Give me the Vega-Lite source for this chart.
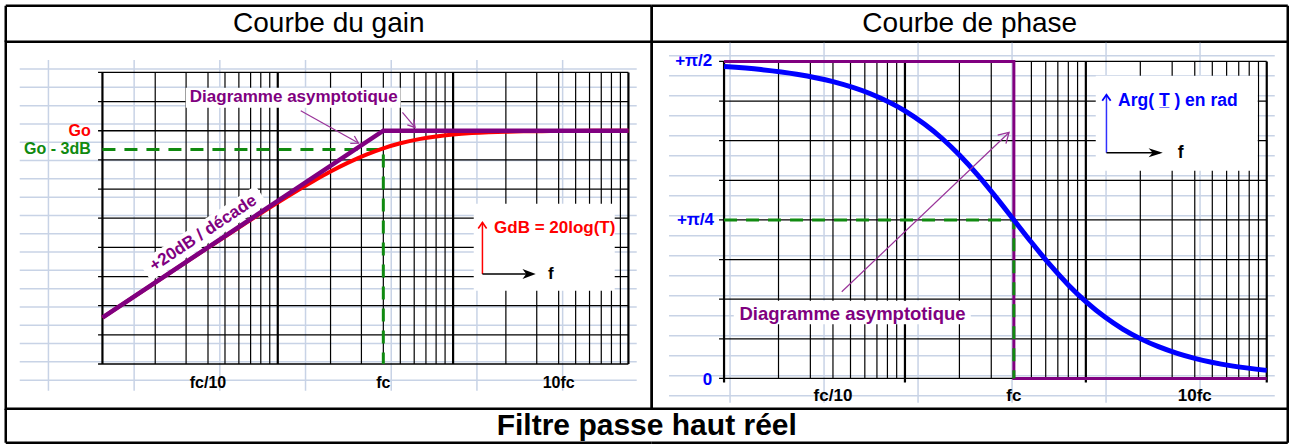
{
  "$schema": "https://vega.github.io/schema/vega-lite/v6.json",
  "padding": {"left": 3.75, "top": 3.75, "right": 3.75, "bottom": 2.75},
  "background": "white",
  "columns": 2,
  "spacing": 0,
  "bounds": "flush",
  "resolve": {"scale": {"x": "independent", "y": "independent"}},
  "config": {
    "view": {"stroke": "black", "strokeWidth": 2.5},
    "axis": {"disable": true},
    "text": {"font": "Liberation Sans"}
  },
  "datasets": {
    "minors": [{"f":0.05},{"f":0.075},{"f":0.1},{"f":0.125},{"f":0.15},{"f":0.175},{"f":0.2},{"f":0.225},{"f":0.5},{"f":0.75},{"f":1},{"f":1.25},{"f":1.5},{"f":1.75},{"f":2},{"f":2.25},{"f":5},{"f":7.5},{"f":10},{"f":12.5},{"f":15},{"f":17.5},{"f":20},{"f":22.5}],
    "decades": [{"f":0.025},{"f":0.25},{"f":2.5},{"f":25}],
    "g_h": [{"db":-40},{"db":-35},{"db":-30},{"db":-25},{"db":-20},{"db":-15},{"db":-10},{"db":-5},{"db":0},{"db":5},{"db":10}],
    "p_h": [{"rad":0},{"rad":0.19635},{"rad":0.3927},{"rad":0.58905},{"rad":0.7854},{"rad":0.98175},{"rad":1.1781},{"rad":1.37445},{"rad":1.5708}],
    "g_lv": [{"f":0.012302},{"f":0.03791},{"f":0.11682},{"f":0.36},{"f":1.1095},{"f":3.419},{"f":10.537}],
    "g_lh": [{"db":10.58},{"db":7.44},{"db":4.3},{"db":1.17},{"db":-1.97},{"db":-5.11},{"db":-8.25},{"db":-11.39},{"db":-14.52},{"db":-17.66},{"db":-20.8},{"db":-23.94},{"db":-27.08},{"db":-30.21},{"db":-33.35},{"db":-36.49},{"db":-39.63},{"db":-42.77}],
    "p_lv": [{"f":0.026985},{"f":0.089275},{"f":0.29537},{"f":0.9772},{"f":3.233},{"f":10.696}],
    "p_lh": [{"rad":1.5991},{"rad":1.5},{"rad":1.4009},{"rad":1.3018},{"rad":1.2027},{"rad":1.1036},{"rad":1.0045},{"rad":0.9054},{"rad":0.8063},{"rad":0.7071},{"rad":0.608},{"rad":0.5089},{"rad":0.4098},{"rad":0.3107},{"rad":0.2116},{"rad":0.1125},{"rad":0.0134},{"rad":-0.0857}],
    "g_curve": [{"f":0.025,"db":-32.044},{"f":0.04,"db":-27.966},{"f":0.063,"db":-24.03},{"f":0.1,"db":-20.043},{"f":0.16,"db":-16.027},{"f":0.25,"db":-12.304},{"f":0.4,"db":-8.603},{"f":0.5,"db":-6.99},{"f":0.63,"db":-5.465},{"f":0.8,"db":-4.087},{"f":1,"db":-3.01},{"f":1.25,"db":-2.148},{"f":1.6,"db":-1.432},{"f":2,"db":-0.969},{"f":2.5,"db":-0.645},{"f":3.2,"db":-0.405},{"f":4,"db":-0.263},{"f":5,"db":-0.17},{"f":6.3,"db":-0.108},{"f":8,"db":-0.067},{"f":10,"db":-0.043},{"f":16,"db":-0.017},{"f":25,"db":-0.007}],
    "p_curve": [{"f":0.025,"rad":1.5458},{"f":0.04,"rad":1.5308},{"f":0.063,"rad":1.5079},{"f":0.1,"rad":1.4711},{"f":0.16,"rad":1.4122},{"f":0.25,"rad":1.3258},{"f":0.4,"rad":1.1903},{"f":0.5,"rad":1.1071},{"f":0.63,"rad":1.0088},{"f":0.8,"rad":0.8961},{"f":1,"rad":0.7854},{"f":1.25,"rad":0.6747},{"f":1.6,"rad":0.5586},{"f":2,"rad":0.4636},{"f":2.5,"rad":0.3805},{"f":3.2,"rad":0.3029},{"f":4,"rad":0.245},{"f":5,"rad":0.1974},{"f":6.3,"rad":0.1574},{"f":8,"rad":0.1244},{"f":10,"rad":0.0997},{"f":16,"rad":0.0624},{"f":25,"rad":0.04}]
  },
  "concat": [
    {
      "width": 646,
      "height": 36,
      "view": {"stroke": null},
      "layer": [
        {"data": {"values": [{"t": "Courbe du gain"}]}, "mark": {"type": "text", "fontSize": 28, "color": "black"}, "encoding": {"text": {"field": "t"}}},
        {"data": {"values": [{"edge": 0}, {"edge": 1}]},
         "mark": {"type": "rule", "color": "black", "strokeWidth": 2.5},
         "encoding": {"x": {"field": "edge", "type": "quantitative", "scale": {"domain": [0, 1], "nice": false, "zero": false}},
                      "y": {"datum": 0, "type": "quantitative", "scale": {"domain": [0, 1], "nice": false, "zero": false}}, "y2": {"datum": 1}}},
        {"data": {"values": [{"edge": "top"}]},
         "mark": {"type": "rule", "color": "black", "strokeWidth": 2.5},
         "encoding": {"y": {"datum": 1, "type": "quantitative", "scale": {"domain": [0, 1], "nice": false, "zero": false}},
                      "x": {"datum": 0, "type": "quantitative", "scale": {"domain": [0, 1], "nice": false, "zero": false}}, "x2": {"datum": 1}}}
      ]
    },
    {
      "width": 636,
      "height": 36,
      "view": {"stroke": null},
      "layer": [
        {"data": {"values": [{"t": "Courbe de phase"}]}, "mark": {"type": "text", "fontSize": 28, "color": "black"}, "encoding": {"text": {"field": "t"}}},
        {"data": {"values": [{"edge": 0}, {"edge": 1}]},
         "mark": {"type": "rule", "color": "black", "strokeWidth": 2.5},
         "encoding": {"x": {"field": "edge", "type": "quantitative", "scale": {"domain": [0, 1], "nice": false, "zero": false}},
                      "y": {"datum": 0, "type": "quantitative", "scale": {"domain": [0, 1], "nice": false, "zero": false}}, "y2": {"datum": 1}}},
        {"data": {"values": [{"edge": "top"}]},
         "mark": {"type": "rule", "color": "black", "strokeWidth": 2.5},
         "encoding": {"y": {"datum": 1, "type": "quantitative", "scale": {"domain": [0, 1], "nice": false, "zero": false}},
                      "x": {"datum": 0, "type": "quantitative", "scale": {"domain": [0, 1], "nice": false, "zero": false}}, "x2": {"datum": 1}}}
      ]
    },
    {
      "width": 646,
      "height": 367,
      "layer": [
        {"data": {"name": "g_lv"}, "mark": {"type": "rule", "color": "#c8d3e6", "strokeWidth": 1.5},
         "encoding": {"x": {"field": "f", "type": "quantitative", "scale": {"type": "log", "domain": [0.007022, 33.96], "nice": false}},
                      "y": {"datum": 12.12, "type": "quantitative", "scale": {"domain": [-47.67, 15.26], "nice": false, "zero": false}},
                      "y2": {"datum": -44.58}}},
        {"data": {"name": "g_lh"}, "mark": {"type": "rule", "color": "#c8d3e6", "strokeWidth": 1.5},
         "encoding": {"y": {"field": "db", "type": "quantitative", "scale": {"domain": [-47.67, 15.26], "nice": false, "zero": false}},
                      "x": {"datum": 0.008437, "type": "quantitative", "scale": {"type": "log", "domain": [0.007022, 33.96], "nice": false}},
                      "x2": {"datum": 27.88}}},
        {"data": {"name": "minors"}, "mark": {"type": "rule", "color": "black", "strokeWidth": 1.2},
         "encoding": {"x": {"field": "f", "type": "quantitative", "scale": {"type": "log", "domain": [0.007022, 33.96], "nice": false}},
                      "y": {"datum": 10, "type": "quantitative", "scale": {"domain": [-47.67, 15.26], "nice": false, "zero": false}},
                      "y2": {"datum": -40}}},
        {"data": {"name": "decades"}, "mark": {"type": "rule", "color": "black", "strokeWidth": 2.2},
         "encoding": {"x": {"field": "f", "type": "quantitative", "scale": {"type": "log", "domain": [0.007022, 33.96], "nice": false}},
                      "y": {"datum": 10, "type": "quantitative", "scale": {"domain": [-47.67, 15.26], "nice": false, "zero": false}},
                      "y2": {"datum": -40}}},
        {"data": {"name": "g_h"}, "mark": {"type": "rule", "color": "black", "strokeWidth": 1.3},
         "encoding": {"y": {"field": "db", "type": "quantitative", "scale": {"domain": [-47.67, 15.26], "nice": false, "zero": false}},
                      "x": {"datum": 0.0236, "type": "quantitative", "scale": {"type": "log", "domain": [0.007022, 33.96], "nice": false}},
                      "x2": {"datum": 25}}},
        {"data": {"values": [{"f": 0.07465, "f2": 1.2569, "db": 7.373, "db2": 3.944}, {"f": 3.2783, "f2": 20.885, "db": -12.517, "db2": -27.435}]},
         "mark": {"type": "rect", "color": "white"},
         "encoding": {"x": {"field": "f", "type": "quantitative", "scale": {"type": "log", "domain": [0.007022, 33.96], "nice": false}}, "x2": {"field": "f2"},
                      "y": {"field": "db", "type": "quantitative", "scale": {"domain": [-47.67, 15.26], "nice": false, "zero": false}}, "y2": {"field": "db2"}}},
        {"data": {"values": [{"f": 0.04369, "db": -24.211}, {"f": 0.20198, "db": -10.94}]},
         "mark": {"type": "line", "color": "white", "strokeWidth": 22, "strokeCap": "butt"},
         "encoding": {"x": {"field": "f", "type": "quantitative", "scale": {"type": "log", "domain": [0.007022, 33.96], "nice": false}},
                      "y": {"field": "db", "type": "quantitative", "scale": {"domain": [-47.67, 15.26], "nice": false, "zero": false}}}},
        {"data": {"values": [{"i": 1, "f": 0.025, "db": -3.2}, {"i": 2, "f": 1, "db": -3.2}, {"i": 3, "f": 1, "db": -40}]},
         "mark": {"type": "line", "color": "#108a10", "strokeWidth": 3, "strokeDash": [13, 9]},
         "encoding": {"x": {"field": "f", "type": "quantitative", "scale": {"type": "log", "domain": [0.007022, 33.96], "nice": false}},
                      "y": {"field": "db", "type": "quantitative", "scale": {"domain": [-47.67, 15.26], "nice": false, "zero": false}},
                      "order": {"field": "i"}}},
        {"data": {"name": "g_curve"}, "mark": {"type": "line", "color": "#ff0000", "strokeWidth": 4, "interpolate": "monotone"},
         "encoding": {"x": {"field": "f", "type": "quantitative", "scale": {"type": "log", "domain": [0.007022, 33.96], "nice": false}},
                      "y": {"field": "db", "type": "quantitative", "scale": {"domain": [-47.67, 15.26], "nice": false, "zero": false}}}},
        {"data": {"values": [{"f": 0.025, "db": -32.04}, {"f": 1, "db": 0}, {"f": 25, "db": 0}]},
         "mark": {"type": "line", "color": "#800080", "strokeWidth": 4.5},
         "encoding": {"x": {"field": "f", "type": "quantitative", "scale": {"type": "log", "domain": [0.007022, 33.96], "nice": false}},
                      "y": {"field": "db", "type": "quantitative", "scale": {"domain": [-47.67, 15.26], "nice": false, "zero": false}}}},
        {"data": {"values": [{"id": "a", "f": 0.33804, "db": 3.429}, {"id": "a", "f": 0.72117, "db": -2.109}, {"id": "b", "f": 1.2853, "db": 3.138}, {"id": "b", "f": 1.5166, "db": 0.566}]},
         "mark": {"type": "line", "color": "#993399", "strokeWidth": 1.2},
         "encoding": {"x": {"field": "f", "type": "quantitative", "scale": {"type": "log", "domain": [0.007022, 33.96], "nice": false}},
                      "y": {"field": "db", "type": "quantitative", "scale": {"domain": [-47.67, 15.26], "nice": false, "zero": false}},
                      "detail": {"field": "id"}}},
        {"data": {"values": [{"f": 0.72117, "db": -2.109}]},
         "mark": {"type": "point", "shape": "M-1,-0.6L0,0L-1,0.6", "filled": false, "color": "#993399", "strokeWidth": 1.3, "size": 196, "angle": 29.24, "opacity": 1},
         "encoding": {"x": {"field": "f", "type": "quantitative", "scale": {"type": "log", "domain": [0.007022, 33.96], "nice": false}},
                      "y": {"field": "db", "type": "quantitative", "scale": {"domain": [-47.67, 15.26], "nice": false, "zero": false}}}},
        {"data": {"values": [{"f": 1.5166, "db": 0.566}]},
         "mark": {"type": "point", "shape": "M-1,-0.6L0,0L-1,0.6", "filled": false, "color": "#993399", "strokeWidth": 1.3, "size": 196, "angle": 50, "opacity": 1},
         "encoding": {"x": {"field": "f", "type": "quantitative", "scale": {"type": "log", "domain": [0.007022, 33.96], "nice": false}},
                      "y": {"field": "db", "type": "quantitative", "scale": {"domain": [-47.67, 15.26], "nice": false, "zero": false}}}},
        {"data": {"values": [{"f": 3.6751, "db": -24.57}, {"f": 3.6751, "db": -15.72}]},
         "mark": {"type": "line", "color": "#ff0000", "strokeWidth": 1.5},
         "encoding": {"x": {"field": "f", "type": "quantitative", "scale": {"type": "log", "domain": [0.007022, 33.96], "nice": false}},
                      "y": {"field": "db", "type": "quantitative", "scale": {"domain": [-47.67, 15.26], "nice": false, "zero": false}}}},
        {"data": {"values": [{"f": 3.6751, "db": -15.72}]},
         "mark": {"type": "point", "shape": "M-1,-0.7L0,0L-1,0.7", "filled": false, "color": "#ff0000", "strokeWidth": 1.6, "size": 144, "angle": 270, "opacity": 1},
         "encoding": {"x": {"field": "f", "type": "quantitative", "scale": {"type": "log", "domain": [0.007022, 33.96], "nice": false}},
                      "y": {"field": "db", "type": "quantitative", "scale": {"domain": [-47.67, 15.26], "nice": false, "zero": false}}}},
        {"data": {"values": [{"f": 3.6751, "db": -24.57}, {"f": 7.1, "db": -24.57}]},
         "mark": {"type": "line", "color": "black", "strokeWidth": 1.5},
         "encoding": {"x": {"field": "f", "type": "quantitative", "scale": {"type": "log", "domain": [0.007022, 33.96], "nice": false}},
                      "y": {"field": "db", "type": "quantitative", "scale": {"domain": [-47.67, 15.26], "nice": false, "zero": false}}}},
        {"data": {"values": [{"f": 7.4, "db": -24.57}]},
         "mark": {"type": "point", "shape": "M0,0L-1,-0.38L-0.72,0L-1,0.38Z", "filled": true, "color": "black", "size": 700, "angle": 0, "opacity": 1},
         "encoding": {"x": {"field": "f", "type": "quantitative", "scale": {"type": "log", "domain": [0.007022, 33.96], "nice": false}},
                      "y": {"field": "db", "type": "quantitative", "scale": {"domain": [-47.67, 15.26], "nice": false, "zero": false}}}},
        {"data": {"values": [{"label": "Diagramme asymptotique", "f": 0.3083, "db": 5.71}]},
         "mark": {"type": "text", "fontSize": 17, "fontWeight": "bold", "color": "#800080"},
         "encoding": {"x": {"field": "f", "type": "quantitative", "scale": {"type": "log", "domain": [0.007022, 33.96], "nice": false}},
                      "y": {"field": "db", "type": "quantitative", "scale": {"domain": [-47.67, 15.26], "nice": false, "zero": false}},
                      "text": {"field": "label"}}},
        {"data": {"values": [{"label": "+20dB / décade", "f": 0.09394, "db": -17.575}]},
         "mark": {"type": "text", "fontSize": 17, "fontWeight": "bold", "color": "#800080", "angle": 326.4},
         "encoding": {"x": {"field": "f", "type": "quantitative", "scale": {"type": "log", "domain": [0.007022, 33.96], "nice": false}},
                      "y": {"field": "db", "type": "quantitative", "scale": {"domain": [-47.67, 15.26], "nice": false, "zero": false}},
                      "text": {"field": "label"}}},
        {"data": {"values": [{"label": "GdB = 20log(T)", "f": 4.2801, "db": -16.75}]},
         "mark": {"type": "text", "fontSize": 17, "fontWeight": "bold", "color": "#ff0000", "align": "left"},
         "encoding": {"x": {"field": "f", "type": "quantitative", "scale": {"type": "log", "domain": [0.007022, 33.96], "nice": false}},
                      "y": {"field": "db", "type": "quantitative", "scale": {"domain": [-47.67, 15.26], "nice": false, "zero": false}},
                      "text": {"field": "label"}}},
        {"data": {"values": [{"label": "f", "f": 9.0124, "db": -24.57}]},
         "mark": {"type": "text", "fontSize": 17, "fontWeight": "bold", "color": "black"},
         "encoding": {"x": {"field": "f", "type": "quantitative", "scale": {"type": "log", "domain": [0.007022, 33.96], "nice": false}},
                      "y": {"field": "db", "type": "quantitative", "scale": {"domain": [-47.67, 15.26], "nice": false, "zero": false}},
                      "text": {"field": "label"}}},
        {"data": {"values": [{"label": "Go", "f": 0.02144, "db": 0}]},
         "mark": {"type": "text", "fontSize": 16, "fontWeight": "bold", "color": "#ff0000", "align": "right"},
         "encoding": {"x": {"field": "f", "type": "quantitative", "scale": {"type": "log", "domain": [0.007022, 33.96], "nice": false}},
                      "y": {"field": "db", "type": "quantitative", "scale": {"domain": [-47.67, 15.26], "nice": false, "zero": false}},
                      "text": {"field": "label"}}},
        {"data": {"values": [{"label": "Go - 3dB", "f": 0.02144, "db": -3.2}]},
         "mark": {"type": "text", "fontSize": 16, "fontWeight": "bold", "color": "#108a10", "align": "right"},
         "encoding": {"x": {"field": "f", "type": "quantitative", "scale": {"type": "log", "domain": [0.007022, 33.96], "nice": false}},
                      "y": {"field": "db", "type": "quantitative", "scale": {"domain": [-47.67, 15.26], "nice": false, "zero": false}},
                      "text": {"field": "label"}}},
        {"data": {"values": [{"label": "fc/10", "f": 0.1, "db": -43.21}, {"label": "fc", "f": 1, "db": -43.21}, {"label": "10fc", "f": 10, "db": -43.21}]},
         "mark": {"type": "text", "fontSize": 16, "fontWeight": "bold", "color": "black"},
         "encoding": {"x": {"field": "f", "type": "quantitative", "scale": {"type": "log", "domain": [0.007022, 33.96], "nice": false}},
                      "y": {"field": "db", "type": "quantitative", "scale": {"domain": [-47.67, 15.26], "nice": false, "zero": false}},
                      "text": {"field": "label"}}}
      ]
    },
    {
      "width": 636,
      "height": 367,
      "layer": [
        {"data": {"name": "p_lv"}, "mark": {"type": "rule", "color": "#c8d3e6", "strokeWidth": 1.5},
         "encoding": {"x": {"field": "f", "type": "quantitative", "scale": {"type": "log", "domain": [0.00996, 32.66], "nice": false}},
                      "y": {"datum": 1.6635, "type": "quantitative", "scale": {"domain": [-0.1501, 1.6685], "nice": false, "zero": false}},
                      "y2": {"datum": -0.1204}}},
        {"data": {"name": "p_lh"}, "mark": {"type": "rule", "color": "#c8d3e6", "strokeWidth": 1.5},
         "encoding": {"y": {"field": "rad", "type": "quantitative", "scale": {"domain": [-0.1501, 1.6685], "nice": false, "zero": false}},
                      "x": {"datum": 0.012414, "type": "quantitative", "scale": {"type": "log", "domain": [0.00996, 32.66], "nice": false}},
                      "x2": {"datum": 27.68}}},
        {"data": {"name": "minors"}, "mark": {"type": "rule", "color": "black", "strokeWidth": 1.2},
         "encoding": {"x": {"field": "f", "type": "quantitative", "scale": {"type": "log", "domain": [0.00996, 32.66], "nice": false}},
                      "y": {"datum": 1.5708, "type": "quantitative", "scale": {"domain": [-0.1501, 1.6685], "nice": false, "zero": false}},
                      "y2": {"datum": 0}}},
        {"data": {"name": "decades"}, "mark": {"type": "rule", "color": "black", "strokeWidth": 2.2},
         "encoding": {"x": {"field": "f", "type": "quantitative", "scale": {"type": "log", "domain": [0.00996, 32.66], "nice": false}},
                      "y": {"datum": 1.5708, "type": "quantitative", "scale": {"domain": [-0.1501, 1.6685], "nice": false, "zero": false}},
                      "y2": {"datum": -0.02}}},
        {"data": {"name": "p_h"}, "mark": {"type": "rule", "color": "black", "strokeWidth": 1.3},
         "encoding": {"y": {"field": "rad", "type": "quantitative", "scale": {"domain": [-0.1501, 1.6685], "nice": false, "zero": false}},
                      "x": {"datum": 0.02346, "type": "quantitative", "scale": {"type": "log", "domain": [0.00996, 32.66], "nice": false}},
                      "x2": {"datum": 25}}},
        {"data": {"values": [{"f": 2.8359, "f2": 22.294, "rad": 1.5, "rad2": 1.0292}, {"f": 0.028285, "f2": 0.5777, "rad": 0.385, "rad2": 0.2686}]},
         "mark": {"type": "rect", "color": "white"},
         "encoding": {"x": {"field": "f", "type": "quantitative", "scale": {"type": "log", "domain": [0.00996, 32.66], "nice": false}}, "x2": {"field": "f2"},
                      "y": {"field": "rad", "type": "quantitative", "scale": {"domain": [-0.1501, 1.6685], "nice": false, "zero": false}}, "y2": {"field": "rad2"}}},
        {"data": {"values": [{"i": 1, "f": 0.025, "rad": 1.5708}, {"i": 2, "f": 1, "rad": 1.5708}, {"i": 3, "f": 1, "rad": 0}, {"i": 4, "f": 25, "rad": 0}]},
         "mark": {"type": "line", "color": "#800080", "strokeWidth": 3},
         "encoding": {"x": {"field": "f", "type": "quantitative", "scale": {"type": "log", "domain": [0.00996, 32.66], "nice": false}},
                      "y": {"field": "rad", "type": "quantitative", "scale": {"domain": [-0.1501, 1.6685], "nice": false, "zero": false}},
                      "order": {"field": "i"}}},
        {"data": {"values": [{"i": 1, "f": 0.025, "rad": 0.7854}, {"i": 2, "f": 1, "rad": 0.7854}, {"i": 3, "f": 1, "rad": 0}]},
         "mark": {"type": "line", "color": "#108a10", "strokeWidth": 3, "strokeDash": [13, 9]},
         "encoding": {"x": {"field": "f", "type": "quantitative", "scale": {"type": "log", "domain": [0.00996, 32.66], "nice": false}},
                      "y": {"field": "rad", "type": "quantitative", "scale": {"domain": [-0.1501, 1.6685], "nice": false, "zero": false}},
                      "order": {"field": "i"}}},
        {"data": {"name": "p_curve"}, "mark": {"type": "line", "color": "#0000ff", "strokeWidth": 5, "interpolate": "monotone"},
         "encoding": {"x": {"field": "f", "type": "quantitative", "scale": {"type": "log", "domain": [0.00996, 32.66], "nice": false}},
                      "y": {"field": "rad", "type": "quantitative", "scale": {"domain": [-0.1501, 1.6685], "nice": false, "zero": false}}}},
        {"data": {"values": [{"f": 0.11184, "rad": 0.4296}, {"f": 0.94058, "rad": 1.219}]},
         "mark": {"type": "line", "color": "#993399", "strokeWidth": 1.2},
         "encoding": {"x": {"field": "f", "type": "quantitative", "scale": {"type": "log", "domain": [0.00996, 32.66], "nice": false}},
                      "y": {"field": "rad", "type": "quantitative", "scale": {"domain": [-0.1501, 1.6685], "nice": false, "zero": false}}}},
        {"data": {"values": [{"f": 0.94058, "rad": 1.219}]},
         "mark": {"type": "point", "shape": "M-1,-0.6L0,0L-1,0.6", "filled": false, "color": "#993399", "strokeWidth": 1.3, "size": 400, "angle": 316.4, "opacity": 1},
         "encoding": {"x": {"field": "f", "type": "quantitative", "scale": {"type": "log", "domain": [0.00996, 32.66], "nice": false}},
                      "y": {"field": "rad", "type": "quantitative", "scale": {"domain": [-0.1501, 1.6685], "nice": false, "zero": false}}}},
        {"data": {"values": [{"f": 3.2495, "rad": 1.1184}, {"f": 3.2495, "rad": 1.4059}]},
         "mark": {"type": "line", "color": "#3030ff", "strokeWidth": 1.5},
         "encoding": {"x": {"field": "f", "type": "quantitative", "scale": {"type": "log", "domain": [0.00996, 32.66], "nice": false}},
                      "y": {"field": "rad", "type": "quantitative", "scale": {"domain": [-0.1501, 1.6685], "nice": false, "zero": false}}}},
        {"data": {"values": [{"f": 3.2495, "rad": 1.4059}]},
         "mark": {"type": "point", "shape": "M-1,-0.7L0,0L-1,0.7", "filled": false, "color": "#0000ff", "strokeWidth": 1.8, "size": 144, "angle": 270, "opacity": 1},
         "encoding": {"x": {"field": "f", "type": "quantitative", "scale": {"type": "log", "domain": [0.00996, 32.66], "nice": false}},
                      "y": {"field": "rad", "type": "quantitative", "scale": {"domain": [-0.1501, 1.6685], "nice": false, "zero": false}}}},
        {"data": {"values": [{"f": 3.2495, "rad": 1.1184}, {"f": 6.4, "rad": 1.1184}]},
         "mark": {"type": "line", "color": "black", "strokeWidth": 1.5},
         "encoding": {"x": {"field": "f", "type": "quantitative", "scale": {"type": "log", "domain": [0.00996, 32.66], "nice": false}},
                      "y": {"field": "rad", "type": "quantitative", "scale": {"domain": [-0.1501, 1.6685], "nice": false, "zero": false}}}},
        {"data": {"values": [{"f": 6.6544, "rad": 1.1184}]},
         "mark": {"type": "point", "shape": "M0,0L-1,-0.32L-0.72,0L-1,0.32Z", "filled": true, "color": "black", "size": 800, "angle": 0, "opacity": 1},
         "encoding": {"x": {"field": "f", "type": "quantitative", "scale": {"type": "log", "domain": [0.00996, 32.66], "nice": false}},
                      "y": {"field": "rad", "type": "quantitative", "scale": {"domain": [-0.1501, 1.6685], "nice": false, "zero": false}}}},
        {"data": {"values": [{"label": "+π/2", "f": 0.021515, "rad": 1.5708}, {"label": "+π/4", "f": 0.022012, "rad": 0.7854}, {"label": "0", "f": 0.02151, "rad": -0.006}]},
         "mark": {"type": "text", "fontSize": 17, "fontWeight": "bold", "color": "#0000ff", "align": "right"},
         "encoding": {"x": {"field": "f", "type": "quantitative", "scale": {"type": "log", "domain": [0.00996, 32.66], "nice": false}},
                      "y": {"field": "rad", "type": "quantitative", "scale": {"domain": [-0.1501, 1.6685], "nice": false, "zero": false}},
                      "text": {"field": "label"}}},
        {"data": {"values": [{"label": "fc/10", "f": 0.1, "rad": -0.0857}, {"label": "fc", "f": 1, "rad": -0.0857}, {"label": "10fc", "f": 10, "rad": -0.0857}]},
         "mark": {"type": "text", "fontSize": 17, "fontWeight": "bold", "color": "black"},
         "encoding": {"x": {"field": "f", "type": "quantitative", "scale": {"type": "log", "domain": [0.00996, 32.66], "nice": false}},
                      "y": {"field": "rad", "type": "quantitative", "scale": {"domain": [-0.1501, 1.6685], "nice": false, "zero": false}},
                      "text": {"field": "label"}}},
        {"data": {"values": [{"label": "Diagramme asymptotique", "f": 0.12818, "rad": 0.3191}]},
         "mark": {"type": "text", "fontSize": 18.5, "fontWeight": "bold", "color": "#800080"},
         "encoding": {"x": {"field": "f", "type": "quantitative", "scale": {"type": "log", "domain": [0.00996, 32.66], "nice": false}},
                      "y": {"field": "rad", "type": "quantitative", "scale": {"domain": [-0.1501, 1.6685], "nice": false, "zero": false}},
                      "text": {"field": "label"}}},
        {"data": {"values": [{"label": "Arg( T̲ ) en rad", "f": 3.7663, "rad": 1.3726}]},
         "mark": {"type": "text", "fontSize": 17.5, "fontWeight": "bold", "color": "#0000ff", "align": "left"},
         "encoding": {"x": {"field": "f", "type": "quantitative", "scale": {"type": "log", "domain": [0.00996, 32.66], "nice": false}},
                      "y": {"field": "rad", "type": "quantitative", "scale": {"domain": [-0.1501, 1.6685], "nice": false, "zero": false}},
                      "text": {"field": "label"}}},
        {"data": {"values": [{"label": "f", "f": 8.3654, "rad": 1.1184}]},
         "mark": {"type": "text", "fontSize": 17.5, "fontWeight": "bold", "color": "black"},
         "encoding": {"x": {"field": "f", "type": "quantitative", "scale": {"type": "log", "domain": [0.00996, 32.66], "nice": false}},
                      "y": {"field": "rad", "type": "quantitative", "scale": {"domain": [-0.1501, 1.6685], "nice": false, "zero": false}},
                      "text": {"field": "label"}}}
      ]
    },
    {
      "width": 646,
      "height": 34,
      "view": {"stroke": null},
      "layer": [
        {"data": {"values": [{"t": "Filtre passe haut réel"}]},
         "mark": {"type": "text", "fontSize": 30, "fontWeight": "bold", "color": "black"},
         "encoding": {"x": {"datum": 0.9923, "type": "quantitative", "scale": {"domain": [0, 1], "nice": false, "zero": false}}, "text": {"field": "t"}}},
        {"data": {"values": [{"edge": "left"}]},
         "mark": {"type": "rule", "color": "black", "strokeWidth": 2.5},
         "encoding": {"x": {"datum": 0, "type": "quantitative", "scale": {"domain": [0, 1], "nice": false, "zero": false}},
                      "y": {"datum": 0, "type": "quantitative", "scale": {"domain": [0, 1], "nice": false, "zero": false}}, "y2": {"datum": 1}}},
        {"data": {"values": [{"edge": "bottom"}]},
         "mark": {"type": "rule", "color": "black", "strokeWidth": 2.5},
         "encoding": {"y": {"datum": 0, "type": "quantitative", "scale": {"domain": [0, 1], "nice": false, "zero": false}},
                      "x": {"datum": 0, "type": "quantitative", "scale": {"domain": [0, 1], "nice": false, "zero": false}}, "x2": {"datum": 1}}}
      ]
    },
    {
      "width": 636,
      "height": 34,
      "view": {"stroke": null},
      "layer": [
        {"data": {"values": [{"edge": "right"}]},
         "mark": {"type": "rule", "color": "black", "strokeWidth": 2.5},
         "encoding": {"x": {"datum": 1, "type": "quantitative", "scale": {"domain": [0, 1], "nice": false, "zero": false}},
                      "y": {"datum": 0, "type": "quantitative", "scale": {"domain": [0, 1], "nice": false, "zero": false}}, "y2": {"datum": 1}}},
        {"data": {"values": [{"edge": "bottom"}]},
         "mark": {"type": "rule", "color": "black", "strokeWidth": 2.5},
         "encoding": {"y": {"datum": 0, "type": "quantitative", "scale": {"domain": [0, 1], "nice": false, "zero": false}},
                      "x": {"datum": 0, "type": "quantitative", "scale": {"domain": [0, 1], "nice": false, "zero": false}}, "x2": {"datum": 1}}}
      ]
    }
  ]
}
